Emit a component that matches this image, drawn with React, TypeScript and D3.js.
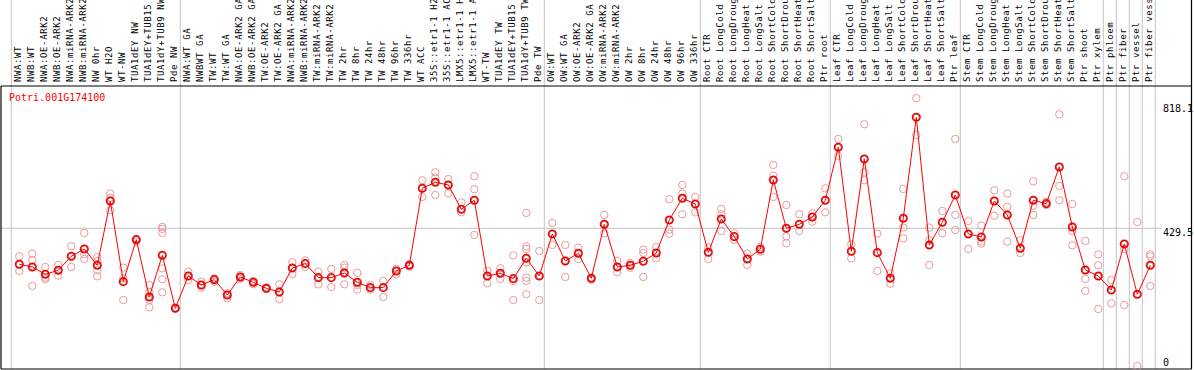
import React from "react";
import * as d3 from "d3";

const title = "Potri.001G174100";

const categories = [
  "NWA:WT", "NWB:WT", "NWA:OE-ARK2", "NWB:OE-ARK2", "NWA:miRNA-ARK2", "NWB:miRNA-ARK2",
  "NW 0hr", "WT H2O", "WT-NW", "TUA1dEY NW", "TUA1dEY+TUB15 NW", "TUA1dY+TUB9 NW", "Pde NW",
  "NWA:WT GA", "NWBWT GA", "TW:WT", "TW:WT GA", "NWA:OE-ARK2 GA", "NWB:OE-ARK2 GA",
  "TW:OE-ARK2", "TW:OE-ARK2 GA", "NWA:miRNA-ARK2 GA", "NWB:miRNA-ARK2 GA", "TW:miRNA-ARK2",
  "TW:miRNA-ARK2 GA", "TW 2hr", "TW 8hr", "TW 24hr", "TW 48hr", "TW 96hr", "TW 336hr",
  "WT ACC", "35S::etr1-1 H2O", "35S::etr1-1 ACC", "LMX5::etr1-1 H2O", "LMX5::etr1-1 ACC",
  "WT-TW", "TUA1dEY TW", "TUA1dEY+TUB15 TW", "TUA1dY+TUB9 TW", "Pde TW",
  "OW:WT", "OW:WT GA", "OW:OE-ARK2", "OW:OE-ARK2 GA", "OW:miRNA-ARK2", "OW:miRNA-ARK2 GA",
  "OW 2hr", "OW 8hr", "OW 24hr", "OW 48hr", "OW 96hr", "OW 336hr",
  "Root CTR", "Root LongCold", "Root LongDrought", "Root LongHeat", "Root LongSalt",
  "Root ShortCold", "Root ShortDrought", "Root ShortHeat", "Root ShortSalt", "Ptr root",
  "Leaf CTR", "Leaf LongCold", "Leaf LongDrought", "Leaf LongHeat", "Leaf LongSalt",
  "Leaf ShortCold", "Leaf ShortDrought", "Leaf ShortHeat", "Leaf ShortSalt", "Ptr leaf",
  "Stem CTR", "Stem LongCold", "Stem LongDrought", "Stem LongHeat", "Stem LongSalt",
  "Stem ShortCold", "Stem ShortDrought", "Stem ShortHeat", "Stem ShortSalt", "Ptr shoot",
  "Ptr xylem", "Ptr phloem", "Ptr fiber", "Ptr vessel", "Ptr fiber vessel"
];

const means = [
  317.2, 308.9, 286, 298.5, 342.2, 365, 314.1, 514.8, 263.1, 394.2, 215.3, 345.3, 179.9,
  280.8, 252.7, 269.4, 221.5, 277.7, 261, 242.3, 230.9, 305.8, 319.3, 275.6, 275.6, 290.2,
  261, 244.4, 244.4, 296.4, 314.1, 554.3, 573, 564.7, 488.8, 516.9, 280.8, 289.1, 272.5,
  335.9, 280.8, 411.8, 327.6, 351.5, 273.5, 442, 308.9, 314.1, 326.6, 352.6, 455.5, 523.1,
  505.4, 354.6, 458.6, 403.5, 333.8, 364, 580.3, 429.5, 442, 464.9, 516.9, 682.2, 357.8,
  645.8, 353.6, 273.5, 460.7, 775.8, 377.5, 448.2, 533.5, 411.8, 402.5, 514.8, 471.1,
  367.1, 516.9, 506.5, 620.9, 433.7, 299.5, 280.8, 237.1, 380.6, 223.6, 314.1
];

const replicates = [
  [342.2, 296.4], [350.5, 329.7, 249.6], [308.9, 275.6, 270.4], [315.1, 281.8],
  [373.4, 308.9], [415, 348.4, 333.8], [340.1, 327.6, 298.5, 279.8], [537.7, 525.2, 485.7],
  [306.8, 273.5, 205.9], [396.2, 387.9], [252.7, 229.8, 205.9, 183],
  [433.7, 427.4, 415, 304.7, 270.4, 229.8], [179.9, 182], [294.3, 268.3], [263.1, 244.4],
  [273.5, 263], [226.7, 211.1], [283.9, 271.4], [265.2, 254.8], [244.4, 240.2], [254.8, 208],
  [323.4, 286], [329.7, 308.9], [294.3, 254.8], [302.6, 246.5], [315.1, 306.8, 254.8],
  [290.2, 252.7, 238.2], [252.7, 238.2], [265.2, 215.3], [302.6, 286], [317.2, 309.9],
  [579.3, 527.3], [604.2, 587.6, 533.5], [583.4, 538.7], [510.6, 479.4], [591.8, 551.2, 408.7],
  [296.4, 257.9], [304.7, 271.4], [345.3, 265.2, 205.9],
  [477.4, 373.4, 365, 323.4, 275.6, 265.2, 223.6], [358.8, 205.9], [446.2, 377.5],
  [377.5, 277.7], [369.2, 333.8], [275.6, 268.3], [471.1, 413.9], [327.6, 292.2],
  [321.4, 306.8], [363, 352.6, 277.7], [371.3, 335.9], [520, 425.4, 412.9],
  [564.7, 537.7, 473.2], [527.3, 479.4], [369.2, 333.8], [489.8, 473.2, 421.2],
  [413.9, 393.1], [350.5, 315.1], [371.3, 356.7], [627.1, 593.8, 527.3],
  [502.3, 404.6, 382.7], [473.2, 421.2], [476.3, 450.3], [554.3, 479.4], [708.2, 655.2],
  [379.6, 335.9], [754, 604.2, 579.3], [412.9, 296.4], [289.1, 256.9], [552.2, 431.6, 398.3],
  [835.1, 720.7], [431.6, 392.1, 315.1], [483.6, 413.9], [708.2, 471.1, 424.3], [452.4, 365],
  [437.8, 387.9, 381.7], [548.1, 469], [537.7, 496.1, 387.9], [392.1, 352.6],
  [576.2, 500.2, 471.1], [512.7, 502.3], [785.2, 561.6, 516.9], [505.4, 421.2, 376.5],
  [390, 271.4, 234], [348.4, 314.1, 177.8], [268.3, 195.5], [591.8, 365, 190.3], [449.3, 0],
  [348.4, 342.2, 249.6]
];

const yTicks = [818.1, 429.5, 0];
const gridValues = [429.5];
const groupStarts = [0, 13, 41, 53, 63, 73, 84, 85, 86, 87, 88];

const W = 1194;
const H = 370;
const plotLeft = 1;
const plotRight = 1191.5;
const plotTop = 86;
const plotBottom = 369;

export default function App() {
  const band = d3
    .scaleBand<string>()
    .domain(categories)
    .range([11.3, 11.3 + 13 * categories.length])
    .paddingInner(0)
    .paddingOuter(0);
  const step = band.step();
  const cx = (c: string) => (band(c) as number) + 8;

  const y = d3.scaleLinear().domain([0, 818.1]).range([366, 103.7]);

  const line = d3
    .line<number>()
    .x((_, i) => cx(categories[i]))
    .y((d) => y(d));

  const sepX = groupStarts.map((k) => 11.3 + step * k);

  const font = "'DejaVu Sans Mono', monospace";

  return (
    <svg
      width={W}
      height={H}
      style={{ position: "absolute", left: 0, top: 0, background: "#fff" }}
    >
      <defs>
        <clipPath id="plotclip">
          <rect x={plotLeft} y={plotTop} width={plotRight - plotLeft} height={plotBottom - plotTop} />
        </clipPath>
      </defs>
      <rect x={0} y={0} width={W} height={H} fill="#fff" />
      {sepX.map((x, i) => (
        <line key={"s" + i} x1={x} x2={x} y1={0} y2={plotBottom} stroke="#c4c4c4" strokeWidth={1} />
      ))}
      {gridValues.map((v, i) => (
        <line
          key={"g" + i}
          x1={plotLeft}
          x2={1161}
          y1={y(v)}
          y2={y(v)}
          stroke="#c4c4c4"
          strokeWidth={1}
        />
      ))}
      <line x1={plotLeft} x2={plotRight} y1={plotTop} y2={plotTop} stroke="#000" strokeWidth={1.2} />
      <line x1={plotLeft} x2={plotRight} y1={plotBottom} y2={plotBottom} stroke="#000" strokeWidth={1.2} />
      <line x1={plotLeft} x2={plotLeft} y1={plotTop} y2={plotBottom} stroke="#000" strokeWidth={1.2} />
      <line x1={plotRight} x2={plotRight} y1={0} y2={plotBottom} stroke="#000" strokeWidth={1.2} />

      {categories.map((c) => (
        <text
          key={"l" + c + cx(c)}
          transform={`translate(${cx(c) + 1.6},82) rotate(-90)`}
          fontFamily={font}
          fontSize={9}
          letterSpacing={0.6}
          fill="#000"
        >
          {c}
        </text>
      ))}

      <text x={9} y={101} fontFamily={font} fontSize={10} fill="#f00">
        {title}
      </text>

      {yTicks.map((v) => (
        <text
          key={"t" + v}
          x={1163}
          y={Math.min(y(v), 357.5) + 8}
          fontFamily={font}
          fontSize={10}
          fill="#000"
        >
          {String(v)}
        </text>
      ))}

      <g clipPath="url(#plotclip)">
        {replicates.map((reps, i) =>
          reps.map((v, j) => (
            <circle
              key={`r${i}-${j}`}
              cx={cx(categories[i])}
              cy={y(v)}
              r={3.7}
              fill="none"
              stroke="#ea9a9a"
              strokeWidth={1}
            />
          ))
        )}
        <path d={line(means) || ""} fill="none" stroke="#f00" strokeWidth={1} />
        {means.map((v, i) => (
          <g key={"m" + i}>
            <circle cx={cx(categories[i])} cy={y(v)} r={3.8} fill="none" stroke="#f00" strokeWidth={1.5} />
            <circle cx={cx(categories[i])} cy={y(v)} r={3.0} fill="none" stroke="#700" strokeWidth={0.5} />
          </g>
        ))}
      </g>
    </svg>
  );
}
